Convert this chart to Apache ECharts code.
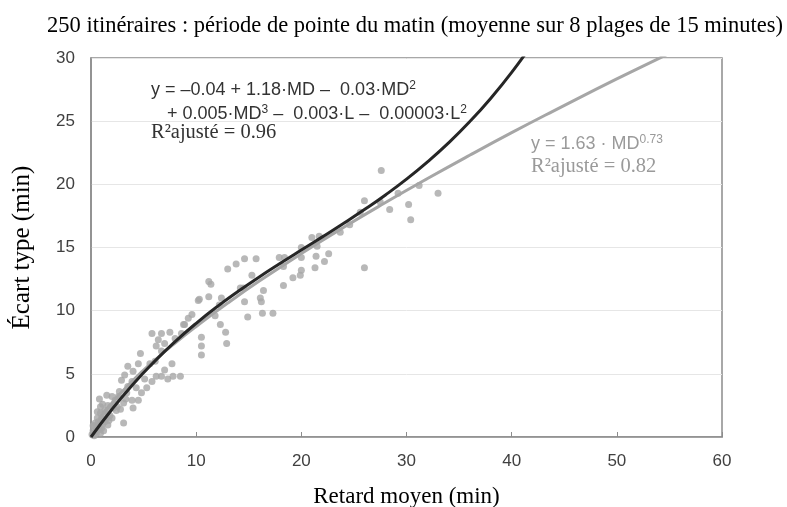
<!DOCTYPE html>
<html><head><meta charset="utf-8">
<script src="https://cdn.jsdelivr.net/npm/echarts@6/dist/echarts.min.js"></script>
<style>html,body{margin:0;padding:0;background:#fff}#c{width:787px;height:507px}</style>
</head><body><div id="c"></div>
<script>
// Scatter: mean delay (MD) and standard deviation
const mdValues = [27.6,33.0,31.2,30.2,30.4,29.2,28.4,27.5,26.0,25.6,26.0,24.6,23.7,21.7,21.0,21.5,20.0,20.0,21.4,22.6,22.2,21.3,20.0,19.9,19.2,18.4,17.9,18.3,18.3,17.3,16.3,14.9,16.4,16.1,16.2,14.6,14.2,14.5,15.3,15.7,14.6,13.8,13.0,12.4,12.3,12.8,12.9,11.2,11.4,10.3,11.2,11.8,10.2,10.5,10.5,10.5,9.6,8.9,8.6,8.0,7.5,6.7,5.8,6.4,7.0,6.2,6.7,6.1,5.6,4.7,7.7,7.0,6.7,7.3,7.8,8.5,6.2,5.8,5.1,5.3,4.8,4.3,4.5,3.5,4.0,3.2,2.9,3.9,3.5,3.4,3.9,4.5,4.0,3.1,2.6,2.3,2.0,1.6,2.4,1.8,1.3,0.9,1.0,0.7,1.3,1.6,3.1,0.5,1.0,0.4,0.9,0.1,0.9,2.0,2.1,12.2,9.25,8.8,0.2,0.3,0.5,0.6,0.8,1.1,1.2,1.4,0.3,0.7,1.5,1.7,1.9,2.2,2.5,0.6,0.4,1.1,0.8,1.5,2.7,2.8,3.3,1.2,0.2];
const sdValues = [21.1,19.3,19.9,18.4,17.2,19.3,18.0,18.6,18.7,17.8,13.4,16.8,16.2,15.9,15.8,15.1,15.0,14.2,14.3,14.5,13.9,13.4,13.2,12.8,12.6,14.2,14.2,13.5,12.0,9.8,9.8,9.5,11.6,11.0,10.7,10.7,11.8,11.8,12.8,14.1,14.1,13.7,13.3,11.0,8.9,8.3,7.4,12.3,12.1,10.9,11.1,9.6,10.8,7.9,7.2,6.5,9.7,8.9,8.2,7.8,8.3,8.2,8.2,7.7,7.4,7.2,6.8,6.0,5.8,6.6,5.8,5.3,4.8,4.6,4.8,4.8,4.8,4.4,4.6,3.9,3.5,3.9,5.8,5.6,5.2,4.9,4.5,4.4,4.0,3.5,2.9,2.9,2.3,2.7,3.2,2.9,3.2,2.5,2.1,1.7,2.1,1.9,1.5,1.2,1.2,0.95,1.1,0.8,0.7,0.4,0.3,0.2,2.4,1.5,2.3,10.45,9.4,8.9,0.5,0.9,0.3,1.5,0.6,1.0,1.8,1.4,0.1,0.9,2.0,1.3,2.4,2.6,2.4,2.0,1.1,2.6,3.0,3.3,3.6,2.2,3.0,0.5,0.9];

// Polynomial fit curve (dark)
const polyX = [0,2,4,6,8,10,12,14,16,18,20,22,24,26,28,30,32,34,36,38,40,42];
const polyY = [0,2.20,4.18,5.95,7.55,9.00,10.32,11.53,12.67,13.75,14.80,15.84,16.90,18.00,19.16,20.41,21.78,23.28,24.95,26.80,28.86,31.16];

// Power fit curve (grey)
const powX = [0,1,2,4,6,8,10,13,16,20,24,28,32,36,40,44,48,52,56];
const powY = [0,1.63,2.70,4.49,6.03,7.44,8.75,10.60,12.34,14.52,16.59,18.56,20.46,22.30,24.09,25.82,27.51,29.16,30.77];

const xTicks = [0,60,10];
const yTicks = [0,30,5];

const titleText = '250 itinéraires : période de pointe du matin (moyenne sur 8 plages de 15 minutes)';

const zip = (a,b) => a.map((v,i)=>[v,b[i]]);

const chart = echarts.init(document.getElementById('c'), null, {renderer:'canvas'});
const sans = 'Liberation Sans, Arial, sans-serif';
const serif = 'Liberation Serif, Times New Roman, serif';
const eqRich = (c) => ({t:{fontFamily:sans,fontSize:18,fill:c},s:{fontFamily:sans,fontSize:12,fill:c,padding:[0,0,9,0]}});
chart.setOption({
  animation:false,
  backgroundColor:'#fff',
  title:{text:titleText,left:42,top:10,textStyle:{fontFamily:serif,fontSize:22.5,fontWeight:'normal',color:'#000'}},
  grid:{left:91,right:65,top:58,bottom:70,show:true,borderColor:'#8c8c8c',borderWidth:1.5,containLabel:false,outerBoundsMode:'none'},
  xAxis:{type:'value',min:xTicks[0],max:xTicks[1],interval:xTicks[2],
    name:'Retard moyen (min)',nameLocation:'middle',nameGap:48,
    nameTextStyle:{fontFamily:serif,fontSize:23,color:'#000'},
    axisLine:{show:true,lineStyle:{color:'#8c8c8c',width:1.5}},
    axisTick:{show:true,inside:true,length:5,lineStyle:{color:'#8c8c8c'}},
    axisLabel:{fontFamily:sans,fontSize:17,color:'#404040',margin:16},
    splitLine:{show:false}},
  yAxis:{type:'value',min:yTicks[0],max:yTicks[1],interval:yTicks[2],
    name:'Écart type (min)',nameLocation:'middle',nameGap:56,
    nameTextStyle:{fontFamily:serif,fontSize:25,color:'#000'},
    axisLine:{show:true,lineStyle:{color:'#8c8c8c',width:1.5}},
    axisTick:{show:false},
    axisLabel:{fontFamily:sans,fontSize:17,color:'#404040',margin:16},
    splitLine:{show:true,lineStyle:{color:'#e6e6e6',width:1}}},
  series:[
    {type:'scatter',data:zip(mdValues,sdValues),symbolSize:7,itemStyle:{color:'#a6a6a6'},z:2},
    {type:'line',data:zip(powX,powY),smooth:true,showSymbol:false,lineStyle:{color:'#a6a6a6',width:3},clip:true,z:3},
    {type:'line',data:zip(polyX,polyY),smooth:true,showSymbol:false,lineStyle:{color:'#262626',width:3},clip:true,z:4}
  ],
  graphic:[
    {type:'text',x:151,y:90,style:{verticalAlign:'middle',
      text:'{t|y = –0.04 + 1.18·MD –  0.03·MD}{s|2}',rich:eqRich('#333')}},
    {type:'text',x:167,y:114,style:{verticalAlign:'middle',
      text:'{t|+ 0.005·MD}{s|3}{t| –  0.003·L –  0.00003·L}{s|2}',rich:eqRich('#333')}},
    {type:'text',x:151,y:133,style:{verticalAlign:'middle',text:'R²ajusté = 0.96',fontFamily:serif,fontSize:20.5,fill:'#333'}},
    {type:'text',x:531,y:144,style:{verticalAlign:'middle',
      text:'{t|y = 1.63 · MD}{s|0.73}',rich:eqRich('#9a9a9a')}},
    {type:'text',x:531,y:167,style:{verticalAlign:'middle',text:'R²ajusté = 0.82',fontFamily:serif,fontSize:20.5,fill:'#9a9a9a'}}
  ]
});
</script></body></html>
